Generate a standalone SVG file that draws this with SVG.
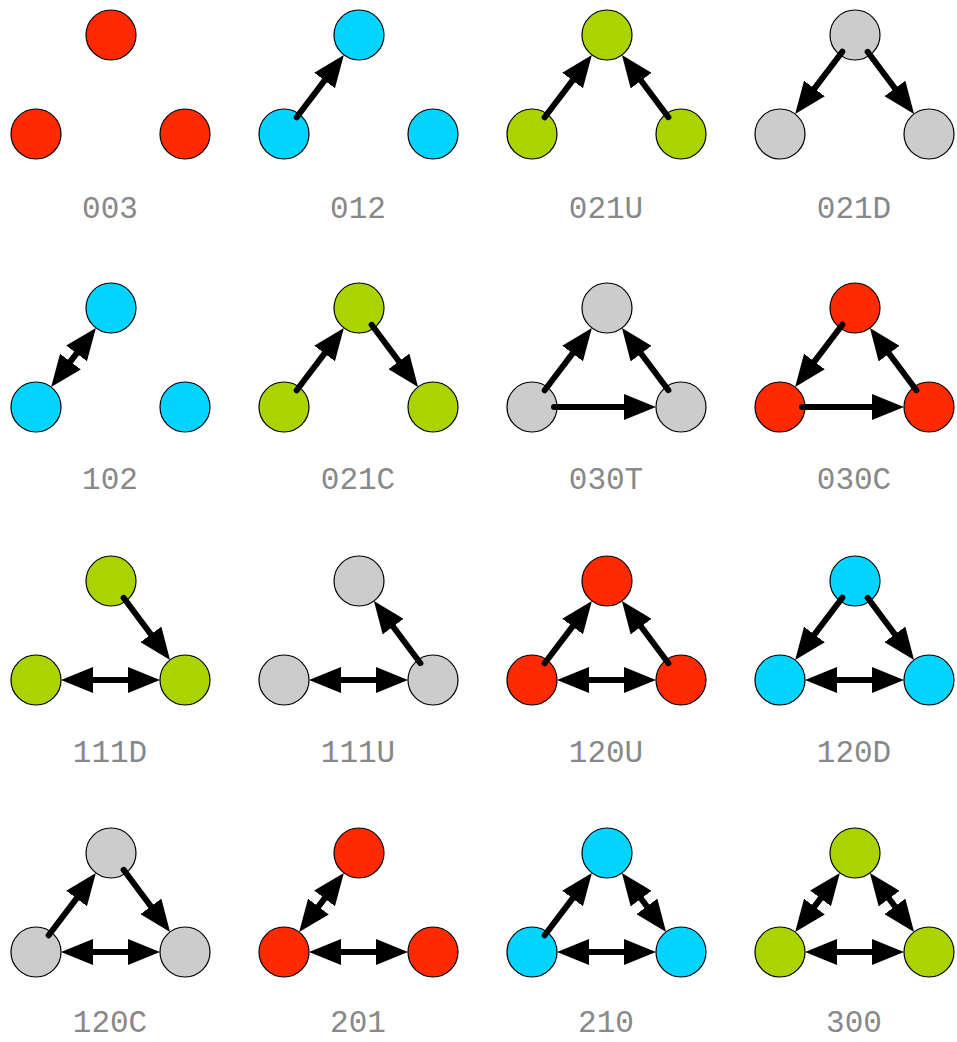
<svg xmlns="http://www.w3.org/2000/svg" width="957" height="1042" viewBox="0 0 957 1042">
<style>
.n{stroke:#000;stroke-width:1.2}
.red{fill:#FF2A00}.cyan{fill:#00D4FF}.green{fill:#AAD400}.grey{fill:#CCCCCC}
.e{stroke:#000;stroke-width:6;stroke-linecap:round;fill:none}
.s{marker-end:url(#ah)}
.d{marker-start:url(#ah);marker-end:url(#ah)}
.lbl{font-family:"Liberation Mono","DejaVu Sans Mono",monospace;font-size:31px;fill:#888;text-anchor:middle}
</style>
<defs>
<marker id="ah" markerUnits="userSpaceOnUse" markerWidth="32" markerHeight="26" refX="12" refY="13" orient="auto-start-reverse" viewBox="0 0 32 26">
<path d="M0,0 L32,13 L0,26 z" fill="#000"/>
</marker>
</defs>
<rect width="957" height="1042" fill="#fff"/>

<!-- 003 -->
<g id="triad-003" transform="translate(0,0)">
<g id="n003-T"><circle class="n red" cx="111" cy="35" r="25"/></g>
<g id="n003-L"><circle class="n red" cx="36" cy="134" r="25"/></g>
<g id="n003-R"><circle class="n red" cx="185" cy="134" r="25"/></g>
<g id="e003"></g>
<text class="lbl" x="110" y="218">003</text>
</g>

<!-- 012 -->
<g id="triad-012" transform="translate(248,0)">
<g id="n012-T"><circle class="n cyan" cx="111" cy="35" r="25"/></g>
<g id="n012-L"><circle class="n cyan" cx="36" cy="134" r="25"/></g>
<g id="n012-R"><circle class="n cyan" cx="185" cy="134" r="25"/></g>
<g id="e012">
<line class="e s" x1="48.7" y1="117.3" x2="83.8" y2="70.9"/>
</g>
<text class="lbl" x="110" y="218">012</text>
</g>

<!-- 021U -->
<g id="triad-021U" transform="translate(496,0)">
<g id="n021U-T"><circle class="n green" cx="111" cy="35" r="25"/></g>
<g id="n021U-L"><circle class="n green" cx="36" cy="134" r="25"/></g>
<g id="n021U-R"><circle class="n green" cx="185" cy="134" r="25"/></g>
<g id="e021U">
<line class="e s" x1="48.7" y1="117.3" x2="83.8" y2="70.9"/>
<line class="e s" x1="172.4" y1="117.2" x2="137.9" y2="71"/>
</g>
<text class="lbl" x="110" y="218">021U</text>
</g>

<!-- 021D -->
<g id="triad-021D" transform="translate(744,0)">
<g id="n021D-T"><circle class="n grey" cx="111" cy="35" r="25"/></g>
<g id="n021D-L"><circle class="n grey" cx="36" cy="134" r="25"/></g>
<g id="n021D-R"><circle class="n grey" cx="185" cy="134" r="25"/></g>
<g id="e021D">
<line class="e s" x1="98.3" y1="51.7" x2="63.2" y2="98.1"/>
<line class="e s" x1="123.6" y1="51.8" x2="158.1" y2="98"/>
</g>
<text class="lbl" x="110" y="218">021D</text>
</g>

<!-- 102 -->
<g id="triad-102" transform="translate(0,273)">
<g id="n102-T"><circle class="n cyan" cx="111" cy="35" r="25"/></g>
<g id="n102-L"><circle class="n cyan" cx="36" cy="134" r="25"/></g>
<g id="n102-R"><circle class="n cyan" cx="185" cy="134" r="25"/></g>
<g id="e102">
<line class="e d" x1="63.2" y1="98.1" x2="83.8" y2="70.9"/>
</g>
<text class="lbl" x="110" y="216">102</text>
</g>

<!-- 021C -->
<g id="triad-021C" transform="translate(248,273)">
<g id="n021C-T"><circle class="n green" cx="111" cy="35" r="25"/></g>
<g id="n021C-L"><circle class="n green" cx="36" cy="134" r="25"/></g>
<g id="n021C-R"><circle class="n green" cx="185" cy="134" r="25"/></g>
<g id="e021C">
<line class="e s" x1="48.7" y1="117.3" x2="83.8" y2="70.9"/>
<line class="e s" x1="123.6" y1="51.8" x2="158.1" y2="98"/>
</g>
<text class="lbl" x="110" y="216">021C</text>
</g>

<!-- 030T -->
<g id="triad-030T" transform="translate(496,273)">
<g id="n030T-T"><circle class="n grey" cx="111" cy="35" r="25"/></g>
<g id="n030T-L"><circle class="n grey" cx="36" cy="134" r="25"/></g>
<g id="n030T-R"><circle class="n grey" cx="185" cy="134" r="25"/></g>
<g id="e030T">
<line class="e s" x1="48.7" y1="117.3" x2="83.8" y2="70.9"/>
<line class="e s" x1="172.4" y1="117.2" x2="137.9" y2="71"/>
<line class="e s" x1="58" y1="134" x2="140" y2="134"/>
</g>
<text class="lbl" x="110" y="216">030T</text>
</g>

<!-- 030C -->
<g id="triad-030C" transform="translate(744,273)">
<g id="n030C-T"><circle class="n red" cx="111" cy="35" r="25"/></g>
<g id="n030C-L"><circle class="n red" cx="36" cy="134" r="25"/></g>
<g id="n030C-R"><circle class="n red" cx="185" cy="134" r="25"/></g>
<g id="e030C">
<line class="e s" x1="98.3" y1="51.7" x2="63.2" y2="98.1"/>
<line class="e s" x1="58" y1="134" x2="140" y2="134"/>
<line class="e s" x1="172.4" y1="117.2" x2="137.9" y2="71"/>
</g>
<text class="lbl" x="110" y="216">030C</text>
</g>

<!-- 111D -->
<g id="triad-111D" transform="translate(0,546)">
<g id="n111D-T"><circle class="n green" cx="111" cy="35" r="25"/></g>
<g id="n111D-L"><circle class="n green" cx="36" cy="134" r="25"/></g>
<g id="n111D-R"><circle class="n green" cx="185" cy="134" r="25"/></g>
<g id="e111D">
<line class="e s" x1="123.6" y1="51.8" x2="158.1" y2="98"/>
<line class="e d" x1="81" y1="134" x2="140" y2="134"/>
</g>
<text class="lbl" x="110" y="216">111D</text>
</g>

<!-- 111U -->
<g id="triad-111U" transform="translate(248,546)">
<g id="n111U-T"><circle class="n grey" cx="111" cy="35" r="25"/></g>
<g id="n111U-L"><circle class="n grey" cx="36" cy="134" r="25"/></g>
<g id="n111U-R"><circle class="n grey" cx="185" cy="134" r="25"/></g>
<g id="e111U">
<line class="e s" x1="172.4" y1="117.2" x2="137.9" y2="71"/>
<line class="e d" x1="81" y1="134" x2="140" y2="134"/>
</g>
<text class="lbl" x="110" y="216">111U</text>
</g>

<!-- 120U -->
<g id="triad-120U" transform="translate(496,546)">
<g id="n120U-T"><circle class="n red" cx="111" cy="35" r="25"/></g>
<g id="n120U-L"><circle class="n red" cx="36" cy="134" r="25"/></g>
<g id="n120U-R"><circle class="n red" cx="185" cy="134" r="25"/></g>
<g id="e120U">
<line class="e s" x1="48.7" y1="117.3" x2="83.8" y2="70.9"/>
<line class="e s" x1="172.4" y1="117.2" x2="137.9" y2="71"/>
<line class="e d" x1="81" y1="134" x2="140" y2="134"/>
</g>
<text class="lbl" x="110" y="216">120U</text>
</g>

<!-- 120D -->
<g id="triad-120D" transform="translate(744,546)">
<g id="n120D-T"><circle class="n cyan" cx="111" cy="35" r="25"/></g>
<g id="n120D-L"><circle class="n cyan" cx="36" cy="134" r="25"/></g>
<g id="n120D-R"><circle class="n cyan" cx="185" cy="134" r="25"/></g>
<g id="e120D">
<line class="e s" x1="98.3" y1="51.7" x2="63.2" y2="98.1"/>
<line class="e s" x1="123.6" y1="51.8" x2="158.1" y2="98"/>
<line class="e d" x1="81" y1="134" x2="140" y2="134"/>
</g>
<text class="lbl" x="110" y="216">120D</text>
</g>

<!-- 120C -->
<g id="triad-120C" transform="translate(0,818)">
<g id="n120C-T"><circle class="n grey" cx="111" cy="35" r="25"/></g>
<g id="n120C-L"><circle class="n grey" cx="36" cy="134" r="25"/></g>
<g id="n120C-R"><circle class="n grey" cx="185" cy="134" r="25"/></g>
<g id="e120C">
<line class="e s" x1="48.7" y1="117.3" x2="83.8" y2="70.9"/>
<line class="e s" x1="123.6" y1="51.8" x2="158.1" y2="98"/>
<line class="e d" x1="81" y1="134" x2="140" y2="134"/>
</g>
<text class="lbl" x="110" y="214">120C</text>
</g>

<!-- 201 -->
<g id="triad-201" transform="translate(248,818)">
<g id="n201-T"><circle class="n red" cx="111" cy="35" r="25"/></g>
<g id="n201-L"><circle class="n red" cx="36" cy="134" r="25"/></g>
<g id="n201-R"><circle class="n red" cx="185" cy="134" r="25"/></g>
<g id="e201">
<line class="e d" x1="63.2" y1="98.1" x2="83.8" y2="70.9"/>
<line class="e d" x1="81" y1="134" x2="140" y2="134"/>
</g>
<text class="lbl" x="110" y="214">201</text>
</g>

<!-- 210 -->
<g id="triad-210" transform="translate(496,818)">
<g id="n210-T"><circle class="n cyan" cx="111" cy="35" r="25"/></g>
<g id="n210-L"><circle class="n cyan" cx="36" cy="134" r="25"/></g>
<g id="n210-R"><circle class="n cyan" cx="185" cy="134" r="25"/></g>
<g id="e210">
<line class="e s" x1="48.7" y1="117.3" x2="83.8" y2="70.9"/>
<line class="e d" x1="137.9" y1="71" x2="158.1" y2="98"/>
<line class="e d" x1="81" y1="134" x2="140" y2="134"/>
</g>
<text class="lbl" x="110" y="214">210</text>
</g>

<!-- 300 -->
<g id="triad-300" transform="translate(744,818)">
<g id="n300-T"><circle class="n green" cx="111" cy="35" r="25"/></g>
<g id="n300-L"><circle class="n green" cx="36" cy="134" r="25"/></g>
<g id="n300-R"><circle class="n green" cx="185" cy="134" r="25"/></g>
<g id="e300">
<line class="e d" x1="63.2" y1="98.1" x2="83.8" y2="70.9"/>
<line class="e d" x1="137.9" y1="71" x2="158.1" y2="98"/>
<line class="e d" x1="81" y1="134" x2="140" y2="134"/>
</g>
<text class="lbl" x="110" y="214">300</text>
</g>
</svg>
